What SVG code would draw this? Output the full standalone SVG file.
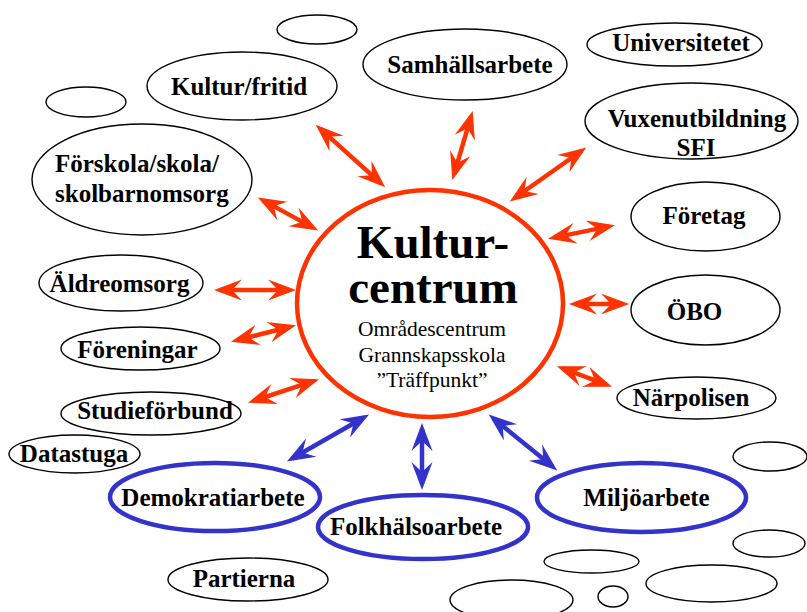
<svg xmlns="http://www.w3.org/2000/svg" width="807" height="612" viewBox="0 0 807 612">
<style>
.n{fill:#fff;stroke:#000;stroke-width:1.4}
.b{fill:#fff;stroke:#3333CC;stroke-width:4.5}
.t{font-family:"Liberation Serif","Times New Roman",serif;font-weight:bold;font-size:25px;fill:#000;text-anchor:middle}
.r{stroke:#FF3300;stroke-width:4.5;fill:none;marker-start:url(#hr);marker-end:url(#hr)}
.u{stroke:#3333CC;stroke-width:4.5;fill:none;marker-start:url(#hb);marker-end:url(#hb)}
</style>
<defs>
<marker id="hr" viewBox="-30 -12 32 24" refX="-6" refY="0" markerWidth="32" markerHeight="24" markerUnits="userSpaceOnUse" orient="auto-start-reverse"><path d="M0,0 L-28,-10.5 L-18,0 L-28,10.5 Z" fill="#FF3300"/></marker>
<marker id="hb" viewBox="-30 -12 32 24" refX="-6" refY="0" markerWidth="32" markerHeight="24" markerUnits="userSpaceOnUse" orient="auto-start-reverse"><path d="M0,0 L-28,-10.5 L-18,0 L-28,10.5 Z" fill="#3333CC"/></marker>
</defs>
<rect width="807" height="612" fill="#fff"/>
<g id="empty">
<ellipse class="n" cx="317" cy="29.5" rx="40" ry="14.5"/>
<ellipse class="n" cx="86" cy="102" rx="40" ry="15"/>
<ellipse class="n" cx="770" cy="456.5" rx="37" ry="14.5"/>
<ellipse class="n" cx="769" cy="543.5" rx="36" ry="13.5"/>
<ellipse class="n" cx="591.5" cy="561.5" rx="47.5" ry="11.5"/>
<ellipse class="n" cx="711.5" cy="583.5" rx="65.5" ry="18.5"/>
<ellipse class="n" cx="511.5" cy="600" rx="61.5" ry="20"/>
<ellipse class="n" cx="613" cy="596.5" rx="15" ry="10.5"/>
</g>
<g id="connectors">
<line class="r" x1="320.2" y1="128.7" x2="380.8" y2="183.3"/>
<line class="r" x1="471" y1="116.7" x2="454" y2="174.3"/>
<line class="r" x1="263.1" y1="200.4" x2="312.9" y2="227.6"/>
<line class="r" x1="220" y1="290" x2="290" y2="290"/>
<line class="r" x1="236.8" y1="340.3" x2="290.2" y2="326.7"/>
<line class="r" x1="253.7" y1="400.8" x2="313.3" y2="381.2"/>
<line class="u" x1="292.1" y1="458.5" x2="363.9" y2="417.5"/>
<line class="u" x1="422" y1="429" x2="422" y2="484"/>
<line class="u" x1="493.4" y1="418.4" x2="552.6" y2="466.6"/>
<line class="r" x1="514.7" y1="198" x2="581.3" y2="151"/>
<line class="r" x1="553.9" y1="237.6" x2="609.1" y2="226.4"/>
<line class="r" x1="575" y1="304" x2="623" y2="304"/>
<line class="r" x1="562.6" y1="368.4" x2="606.4" y2="384.6"/>
</g>
<g id="center">
<ellipse cx="430" cy="303.5" rx="133" ry="113.5" fill="#fff" stroke="#FF3300" stroke-width="4.5"/>
<text font-family="Liberation Serif,serif" font-weight="bold" font-size="47" text-anchor="middle"><tspan x="433" y="258">Kultur-</tspan><tspan x="433" y="303">centrum</tspan></text>
<text font-family="Liberation Serif,serif" font-size="21.5" text-anchor="middle"><tspan x="432" y="336">Områdescentrum</tspan><tspan x="432" y="362">Grannskapsskola</tspan><tspan x="432" y="387">”Träffpunkt”</tspan></text>
</g>
<g id="kultur"><ellipse class="n" cx="242" cy="86" rx="95" ry="34"/><text class="t" x="239" y="95">Kultur/fritid</text></g>
<g id="samhall"><ellipse class="n" cx="465" cy="64.5" rx="102" ry="35.5"/><text class="t" x="470" y="73">Samhällsarbete</text></g>
<g id="univ"><ellipse class="n" cx="674.5" cy="44.5" rx="87.5" ry="21.5"/><text class="t" x="681" y="51">Universitetet</text></g>
<g id="vuxen"><ellipse class="n" cx="691.5" cy="121" rx="106.5" ry="38"/><text class="t" x="697" y="127">Vuxenutbildning</text><text class="t" x="696" y="156">SFI</text></g>
<g id="foretag"><ellipse class="n" cx="705.5" cy="216.5" rx="74.5" ry="34.5"/><text class="t" x="704" y="224">Företag</text></g>
<g id="obo"><ellipse class="n" cx="705.5" cy="310" rx="74.5" ry="35"/><text class="t" x="694.5" y="320">ÖBO</text></g>
<g id="narpolisen"><ellipse class="n" cx="696.5" cy="398" rx="79.5" ry="21"/><text class="t" x="691" y="406">Närpolisen</text></g>
<g id="forskola"><ellipse class="n" cx="142" cy="179.5" rx="110" ry="55.5"/><text class="t" style="text-anchor:start" x="55" y="172">Förskola/skola/</text><text class="t" style="text-anchor:start" x="55" y="202">skolbarnomsorg</text></g>
<g id="aldre"><ellipse class="n" cx="121" cy="283" rx="82" ry="28"/><text class="t" x="119.5" y="292">Äldreomsorg</text></g>
<g id="foreningar"><ellipse class="n" cx="140.5" cy="348.5" rx="79.5" ry="21.5"/><text class="t" x="137.5" y="358">Föreningar</text></g>
<g id="studie"><ellipse class="n" cx="151" cy="413.5" rx="90" ry="21.5"/><text class="t" x="155" y="419">Studieförbund</text></g>
<g id="datastuga"><ellipse class="n" cx="74.5" cy="454" rx="65.5" ry="19"/><text class="t" x="74" y="462">Datastuga</text></g>
<g id="demokrati"><ellipse class="b" cx="215" cy="497" rx="105" ry="34"/><text class="t" x="213" y="506">Demokratiarbete</text></g>
<g id="folkhalsa"><ellipse class="b" cx="423" cy="527" rx="105" ry="32"/><text class="t" x="416" y="535">Folkhälsoarbete</text></g>
<g id="miljo"><ellipse class="b" cx="641.5" cy="497.5" rx="104.5" ry="34.5"/><text class="t" x="646.5" y="506">Miljöarbete</text></g>
<g id="partierna"><ellipse class="n" cx="248" cy="579.5" rx="80" ry="21.5"/><text class="t" x="244" y="587">Partierna</text></g>
</svg>
